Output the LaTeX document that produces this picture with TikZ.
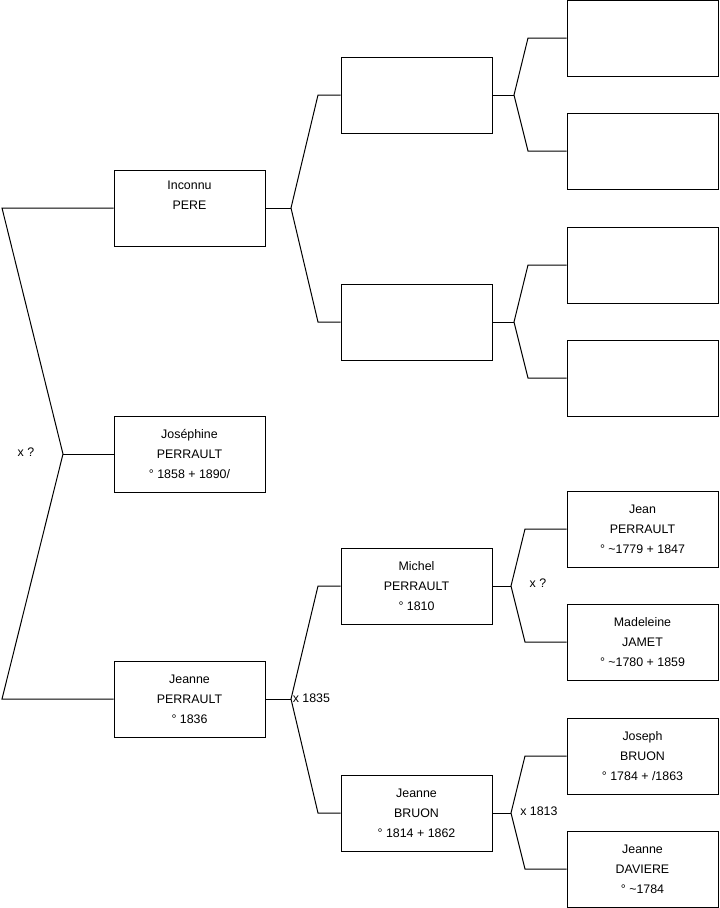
\documentclass[tikz,border=0pt]{standalone}
\usepackage{fontspec}
\setmainfont{Liberation Sans}
\begin{document}
\begin{tikzpicture}[x=0.75pt,y=-0.75pt,
  person/.style={draw, line width=0.75pt, minimum width=113.25pt, minimum height=57pt,
    inner sep=0pt, align=center, font=\fontsize{9.3}{15}\selectfont},
  conn/.style={line width=0.75pt},
  lbl/.style={inner sep=0pt, font=\fontsize{9.3}{11}\selectfont}]
\useasboundingbox (0,0) rectangle (719,908);
% generation 1
\node[person] (p1) at (189.5,208) {Inconnu\\PERE\\\strut};
\node[person] (p2) at (189.5,454) {Joséphine\\PERRAULT\\° 1858 + 1890/};
\node[person] (p3) at (189.5,699) {Jeanne\\PERRAULT\\° 1836};
% generation 2
\node[person] (g2a) at (416.5,95) {};
\node[person] (g2b) at (416.5,322) {};
\node[person] (g2c) at (416.5,586) {Michel\\PERRAULT\\° 1810};
\node[person] (g2d) at (416.5,813) {Jeanne\\BRUON\\° 1814 + 1862};
% generation 3
\node[person] (g3a) at (642.5,38) {};
\node[person] (g3b) at (642.5,151) {};
\node[person] (g3c) at (642.5,265) {};
\node[person] (g3d) at (642.5,378) {};
\node[person] (g3e) at (642.5,529) {Jean\\PERRAULT\\° \textasciitilde 1779 + 1847};
\node[person] (g3f) at (642.5,642) {Madeleine\\JAMET\\° \textasciitilde 1780 + 1859};
\node[person] (g3g) at (642.5,756) {Joseph\\BRUON\\° 1784 + /1863};
\node[person] (g3h) at (642.5,869) {Jeanne\\DAVIERE\\° \textasciitilde 1784};
% coordinates
\coordinate (LT) at (2,208);
\coordinate (LM) at (63,454);
\coordinate (LB) at (2,699);
\coordinate (j1) at (291,208);
\coordinate (j1a) at (318,95);
\coordinate (j1b) at (318,322);
\coordinate (j3) at (291,699);
\coordinate (j3a) at (318,586);
\coordinate (j3b) at (318,813);
\coordinate (ka) at (514,95);
\coordinate (kaa) at (528,38);
\coordinate (kab) at (528,151);
\coordinate (kb) at (514,322);
\coordinate (kba) at (528,265);
\coordinate (kbb) at (528,378);
\coordinate (kc) at (511,586);
\coordinate (kca) at (525,529);
\coordinate (kcb) at (525,642);
\coordinate (kd) at (511,813);
\coordinate (kda) at (525,756);
\coordinate (kdb) at (525,869);
% connectors
\draw[conn] (p1.west) -- (LT) -- (LM) -- (LB) -- (p3.west);
\draw[conn] (LM) -- (p2.west);
\draw[conn] (p1.east) -- (j1);
\draw[conn] (g2a.west) -- (j1a) -- (j1) -- (j1b) -- (g2b.west);
\draw[conn] (p3.east) -- (j3);
\draw[conn] (g2c.west) -- (j3a) -- (j3) -- (j3b) -- (g2d.west);
\draw[conn] (g2a.east) -- (ka);
\draw[conn] (g3a.west) -- (kaa) -- (ka) -- (kab) -- (g3b.west);
\draw[conn] (g2b.east) -- (kb);
\draw[conn] (g3c.west) -- (kba) -- (kb) -- (kbb) -- (g3d.west);
\draw[conn] (g2c.east) -- (kc);
\draw[conn] (g3e.west) -- (kca) -- (kc) -- (kcb) -- (g3f.west);
\draw[conn] (g2d.east) -- (kd);
\draw[conn] (g3g.west) -- (kda) -- (kd) -- (kdb) -- (g3h.west);
% labels
\node[lbl] (m1) at (26,452) {x ?};
\node[lbl, anchor=west] (m2) at (292.5,698) {x 1835};
\node[lbl] (m3) at (538,583) {x ?};
\node[lbl, anchor=west] (m4) at (520,811) {x 1813};
\end{tikzpicture}
\end{document}
